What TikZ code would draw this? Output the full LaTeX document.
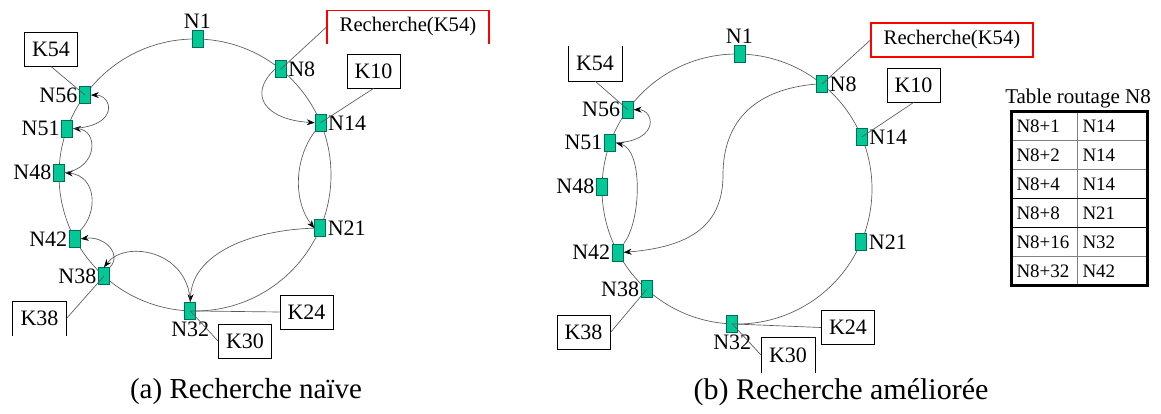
\documentclass[tikz,border=0pt]{standalone}
\usepackage{fontspec}
\setmainfont{Liberation Serif}
\usetikzlibrary{arrows.meta}

\definecolor{peergreen}{RGB}{0,200,150}
\definecolor{peeredge}{RGB}{0,110,80}
\definecolor{ringgray}{RGB}{90,90,90}

\tikzset{every picture/.style={line width=0.75pt}}
\tikzset{
  peer/.style={draw=peeredge,fill=peergreen,line width=0.5pt,inner sep=0pt,
    minimum width=8.25pt,minimum height=12.75pt},
  lbl/.style={inner sep=1pt,font=\fontsize{16.5}{18}\selectfont},
  keybox/.style={draw,line width=0.75pt,inner sep=2pt,minimum width=39.75pt,
    minimum height=25.5pt,font=\fontsize{16.5}{18}\selectfont},
  keyopen/.style={keybox,draw=none},
  query/.style={keybox,minimum width=121.5pt,font=\fontsize{15.5}{18}\selectfont},
  ring/.style={draw=ringgray,line width=0.5pt},
  hop/.style={draw=ringgray,line width=0.5pt,-{Stealth[length=6pt,width=4.5pt,black]}},
  link/.style={draw=ringgray,line width=0.5pt},
  cell/.style={anchor=west,inner sep=0pt,font=\fontsize{14.25}{16}\selectfont},
}

\begin{document}
\begin{tikzpicture}[x=0.75pt,y=0.75pt,yscale=-1,xscale=1]
\useasboundingbox (0,0) rectangle (1161,414);

% (a) naive lookup
\begin{scope}[shift={(195,175)}]
\draw[ring] (0,0) circle (136);
\foreach \a/\n/\p in {89/1/above,51/8/right,22.6/14/right,-23/21/right,-92/32/below,
    -132/38/left,-152/42/left,179/48/left,160/51/left,144/56/left}
  \node[peer,label={[lbl]\p:N\n}] (a\n) at (-\a:136) {};
\end{scope}

\node[keybox] (ka54) at (51,49) {K54};
\node[query,draw=none] (qa) at (408,27) {Recherche(K54)};
\draw[red,line width=0.9pt] (327,44) -- (327,10.5) -- (489,10.5) -- (489,44);
\node[keybox] (ka10) at (373.5,71) {K10};
\node[keybox] (ka24) at (306.5,312) {K24};
\node[keybox] (ka30) at (245,341) {K30};
\node[keyopen] (ka38) at (39.5,318.5) {K38};
\draw (ka38.south west) |- (ka38.north east) -- (ka38.south east);

\draw[link] (qa.west) -- (a8.center);
\draw[link] (ka54.south) -- (a56.center);
\draw[link] (ka10.south) -- (a14.center);
\draw[link] (ka24.west) -- (a32.center);
\draw[link] (ka30.west) -- (a32.center);
\draw[link] (ka38.east) -- (a38.center);

\draw[hop] (a8.west) .. controls +(-27.5,26) and +(-49,-3) .. (a14.west);
\draw[hop] (a14.south west) .. controls +(-22,30) and +(-20,-25) .. (a21.west);
\draw[hop] (a21.west) .. controls +(-65,2) and +(2,-48) .. (a32.north);
\draw[hop] (a32.north) .. controls +(-2,-52) and +(21,-27.5) .. (a38.north);
\draw[hop] (a38.north east) .. controls +(12.5,-12.5) and +(24.5,-3) .. (a42.east);
\draw[hop] (a42.north east) .. controls +(17.5,-18.5) and +(31.5,3.4) .. (a48.east);
\draw[hop] (a48.east) .. controls +(33.5,-4.6) and +(25.3,1.5) .. (a51.east);
\draw[hop] (a51.east) .. controls +(47,-2.5) and +(21.5,0) .. (a56.east);

% (b) lookup with finger table
\begin{scope}[shift={(737,189)}]
\draw[ring] (0,0) circle (135);
\foreach \a/\n/\p in {89/1/above,51/8/right,22.6/14/right,-23/21/right,-92/32/below,
    -132/38/left,-152/42/left,179/48/left,160/51/left,144/56/left}
  \node[peer,label={[lbl]\p:N\n}] (b\n) at (-\a:135) {};
\end{scope}

\node[keyopen] (kb54) at (595,63.5) {K54};
\draw (kb54.north west) |- (kb54.south east) -- (kb54.north east);
\node[query,draw=red,line width=0.9pt] (qb) at (952,40) {Recherche(K54)};
\node[keybox] (kb10) at (913.5,85) {K10};
\node[keybox] (kb24) at (848,327.5) {K24};
\node[keyopen] (kb30) at (788,355) {K30};
\draw (kb30.south west) |- (kb30.north east) -- (kb30.south east);
\node[keybox] (kb38) at (583.5,332.5) {K38};

\draw[link] (qb.west) -- (b8.center);
\draw[link] (kb54.south) -- (b56.center);
\draw[link] (kb10.south) -- (b14.center);
\draw[link] (kb24.west) -- (b32.center);
\draw[link] (kb30.west) -- (b32.center);
\draw[link] (kb38.east) -- (b38.center);

\coordinate (bmid) at (723,175);
\draw[hop] (b8.west) .. controls +(-60,5) and +(0,-55) .. (bmid)
  .. controls +(0,55) and +(60,-5) .. (b42.east);
\draw[hop] (b42.north east) .. controls +(17.5,-21.5) and +(27.5,7) .. (b51.east);
\draw[hop] (b51.east) .. controls +(44.5,-2) and +(20.5,0) .. (b56.east);

% routing table of N8
\node[font=\fontsize{15.75}{17}\selectfont] (rt) at (1078,98) {Table routage N8};
\draw[gray,line width=0.5pt] (1077,111) -- (1077,285);
\foreach \y/\c in {140.5/gray,169.5/gray,198.5/black,227.5/black,256.5/gray}
  \draw[\c,line width=0.6pt] (1011,\y) -- (1147,\y);
\draw[line width=2.25pt] (1011,111) rectangle (1147,285);
\foreach \k/\v [count=\i] in {1/14,2/14,4/14,8/21,16/32,32/42} {
  \node[cell] (fl\i) at (1016,97+29*\i) {N8+\k};
  \node[cell] (fr\i) at (1082,97+29*\i) {N\v};
}

\node[font=\fontsize{21.75}{24}\selectfont] (capa) at (246,392) {(a) Recherche naïve};
\node[font=\fontsize{22.5}{24}\selectfont] (capb) at (841,392) {(b) Recherche améliorée};

\end{tikzpicture}
\end{document}
